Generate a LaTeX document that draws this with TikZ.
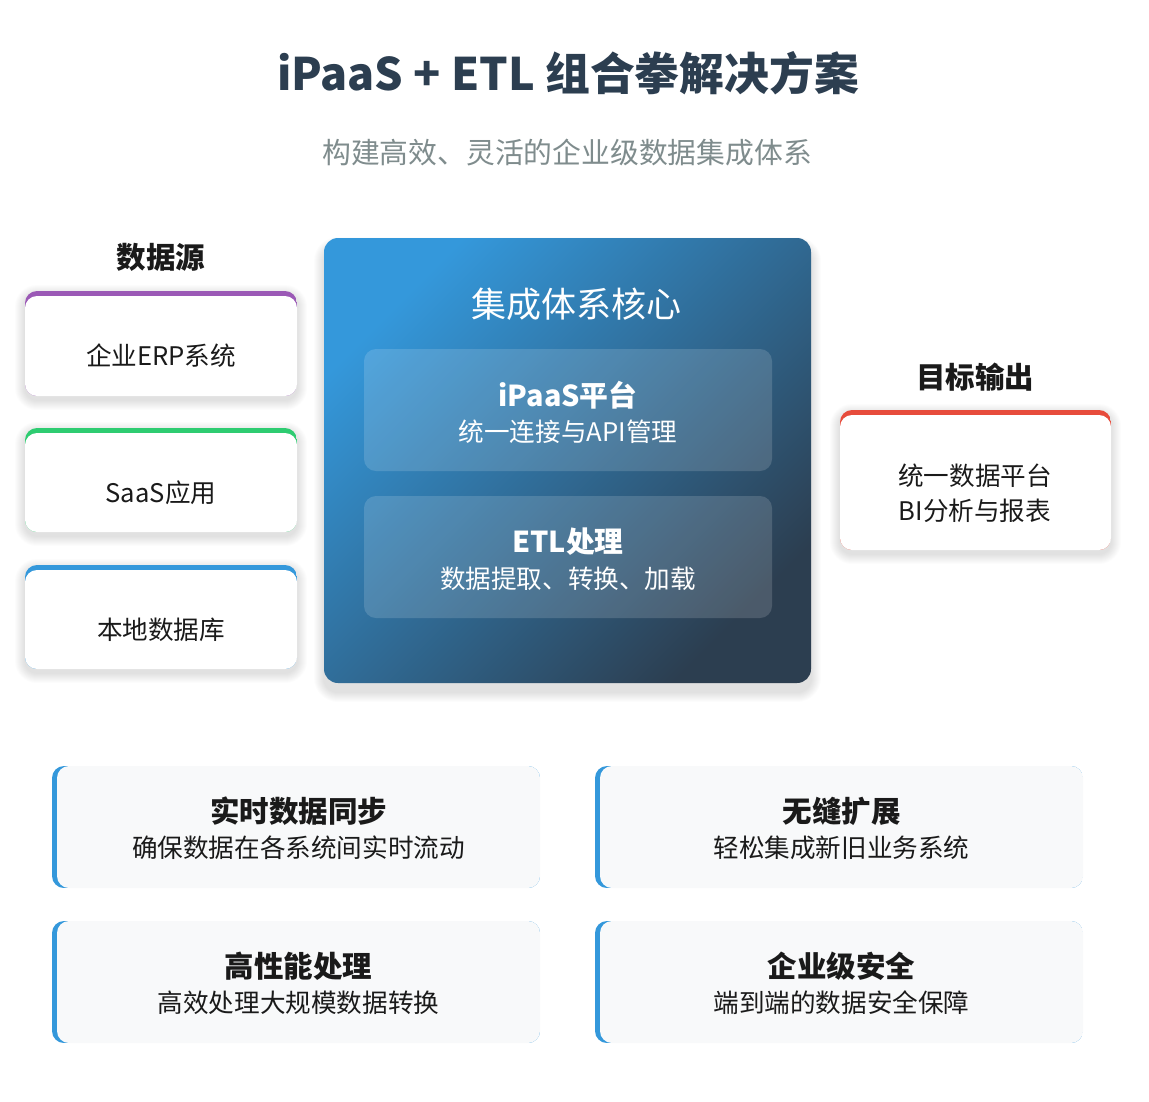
\documentclass[tikz,border=0pt]{standalone}
\usepackage{fontspec}
\setmainfont{Noto Sans CJK SC}
\definecolor{titlec}{HTML}{2C3E50}
\definecolor{subc}{HTML}{7F8C8D}
\definecolor{txt}{HTML}{1A1A1A}
\definecolor{purp}{HTML}{9B59B6}
\definecolor{grn}{HTML}{2ECC71}
\definecolor{blu}{HTML}{3498DB}
\definecolor{redc}{HTML}{E74C3C}
\definecolor{lightbg}{HTML}{F8F9FA}
\definecolor{gradA}{HTML}{3498DB}
\definecolor{gradB}{HTML}{2C3E50}
\newcommand{\softshadow}[6]{% x1 y1 x2 y2 radius offset
  \foreach \i in {1,...,10}{
    \fill[black, opacity=0.010, rounded corners={#5+\i}]
      ({#1-\i},{#2+#6-\i}) rectangle ({#3+\i},{#4+#6+\i});
  }
}
\newcommand{\topcard}[5]{% x1 y1 x2 y2 color
  \softshadow{#1}{#2}{#3}{#4}{12}{4}
  \begin{scope}
    \clip[rounded corners=12] (#1,#2) rectangle (#3,#4);
    \fill[#5] (#1,#2) rectangle (#3,#4);
    \fill[white, rounded corners=12] (#1,{#2+5}) rectangle (#3,{#4+20});
  \end{scope}
}
\newcommand{\leftcard}[4]{% x1 y1 x2 y2
  \begin{scope}
    \clip[rounded corners=12] (#1,#2) rectangle (#3,#4);
    \fill[blu] (#1,#2) rectangle (#3,#4);
    \fill[lightbg, rounded corners=12] ({#1+5},#2) rectangle ({#3+20},#4);
  \end{scope}
}
\tikzset{
  titletext/.style={font=\fontsize{44.8}{52}\selectfont\bfseries, text=titlec},
  subtext/.style={font=\fontsize{28.8}{34}\selectfont, text=subc},
  headtext/.style={font=\fontsize{29.5}{34}\selectfont\bfseries, text=txt},
  bodytext/.style={font=\fontsize{25.6}{30}\selectfont, text=txt},
  coretitle/.style={font=\fontsize{35}{42}\selectfont, text=white},
  innerhead/.style={font=\fontsize{28.8}{34}\selectfont\bfseries, text=white},
  innerbody/.style={font=\fontsize{25.6}{30}\selectfont, text=white},
  innerbox/.style={fill=white, fill opacity=0.15, rounded corners=12},
}
\begin{document}
\begin{tikzpicture}[x=1pt, y=-1pt, inner sep=0pt]
\useasboundingbox (0,0) rectangle (1149,1101);
\fill[white] (0,0) rectangle (1149,1101);

% title
\node[titletext] (title) at (568,73) {iPaaS + ETL 组合拳解决方案};
\node[subtext] (subtitle) at (567,153) {构建高效、灵活的企业级数据集成体系};

% left sources
\node[headtext] (srchead) at (161,257) {数据源};
\topcard{25}{291}{297}{396}{purp}
\node[bodytext] (erp) at (161,356) {企业ERP系统};
\topcard{25}{428}{297}{532}{grn}
\node[bodytext] (saas) at (161,493) {SaaS应用};
\topcard{25}{565}{297}{669}{blu}
\node[bodytext] (localdb) at (161,630) {本地数据库};

% center core
\softshadow{324}{238}{811}{683}{14}{9}
\shade[rounded corners=14, left color=gradA, right color=gradB, shading angle=45]
  (324,238) rectangle (811,683);
\node[coretitle] (core) at (576,304) {集成体系核心};
\fill[innerbox] (364,349) rectangle (772,471);
\node[innerhead] (ipaas) at (568,395) {iPaaS平台};
\node[innerbody] (ipaasd) at (568,432) {统一连接与API管理};
\fill[innerbox] (364,496) rectangle (772,618);
\node[innerhead] (etl) at (568,542) {ETL处理};
\node[innerbody] (etld) at (568,579) {数据提取、转换、加载};

% right output
\node[headtext] (outhead) at (975,377) {目标输出};
\topcard{840}{410}{1111}{550}{redc}
\node[bodytext] (out1) at (975,476) {统一数据平台};
\node[bodytext] (out2) at (975,511) {BI分析与报表};

% bottom features
\leftcard{52}{766}{540}{888}
\node[headtext] (f1) at (298.5,811) {实时数据同步};
\node[bodytext] (f1d) at (298.5,848) {确保数据在各系统间实时流动};
\leftcard{595}{766}{1083}{888}
\node[headtext] (f2) at (841.5,811) {无缝扩展};
\node[bodytext] (f2d) at (841.5,848) {轻松集成新旧业务系统};
\leftcard{52}{921}{540}{1043}
\node[headtext] (f3) at (298.5,966) {高性能处理};
\node[bodytext] (f3d) at (298.5,1003) {高效处理大规模数据转换};
\leftcard{595}{921}{1083}{1043}
\node[headtext] (f4) at (841.5,966) {企业级安全};
\node[bodytext] (f4d) at (841.5,1003) {端到端的数据安全保障};
\end{tikzpicture}
\end{document}
